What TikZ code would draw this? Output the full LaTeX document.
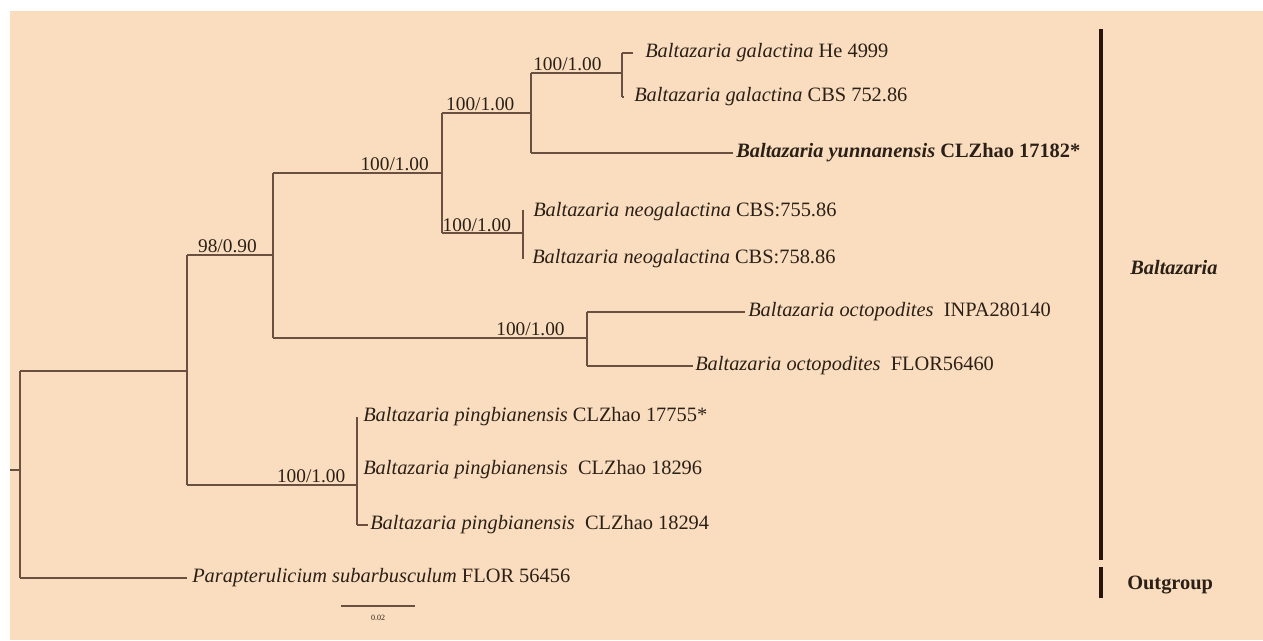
\documentclass[tikz,border=0pt]{standalone}
\usepackage{fontspec}
\setmainfont{Liberation Serif}
\definecolor{bgcol}{HTML}{FADDBE}
\definecolor{linecol}{HTML}{6A5040}
\definecolor{txtcol}{HTML}{2B2018}
\definecolor{barcol}{HTML}{24160E}
\begin{document}
\begin{tikzpicture}[x=0.75pt,y=-0.75pt,
  br/.style={draw=linecol,line width=1pt},
  lbl/.style={anchor=south,inner sep=0pt,yshift=1.5pt,font=\fontsize{14.5}{16}\selectfont,text=txtcol},
  tax/.style={anchor=west,inner ysep=0pt,font=\fontsize{15.3}{17}\selectfont,text=txtcol},
  clade/.style={anchor=west,inner sep=0pt,font=\fontsize{15.3}{17}\selectfont\bfseries,text=txtcol},
  cbar/.style={draw=barcol,line width=2.4pt}]
\useasboundingbox (0,0) rectangle (1263,640);
\fill[bgcol] (10,11) rectangle (1263,640);
% junction coordinates
\coordinate (Rs) at (10,470); \coordinate (Rj) at (20,470);
\coordinate (Rt) at (20,371); \coordinate (Rb) at (20,578);
\coordinate (Aj) at (187,371); \coordinate (At) at (187,255); \coordinate (Ab) at (187,485);
\coordinate (Bj) at (273,255); \coordinate (Bt) at (273,173); \coordinate (Bb) at (273,338);
\coordinate (Cj) at (442,173); \coordinate (Ct) at (442,113); \coordinate (Cb) at (442,233);
\coordinate (Dj) at (531,113); \coordinate (Dt) at (531,73);  \coordinate (Db) at (531,153);
\coordinate (Gj) at (622,73);  \coordinate (Gt) at (622,53);  \coordinate (Gb) at (622,97);
\coordinate (Nj) at (523,233); \coordinate (Nt) at (523,210); \coordinate (Nb) at (523,259);
\coordinate (Oj) at (587,338); \coordinate (Ot) at (587,312); \coordinate (Ob) at (587,366);
\coordinate (Pj) at (357,485); \coordinate (Pt) at (357,417); \coordinate (Pb) at (357,525);
% tips
\node[tax,inner xsep=9pt]   (t1)  at (633,53)  {\textit{Baltazaria galactina} He 4999};
\node[tax,inner xsep=7.5pt] (t2)  at (624,97)  {\textit{Baltazaria galactina} CBS 752.86};
\node[tax,inner xsep=2.25pt](t3)  at (733,153) {\textbf{\textit{Baltazaria yunnanensis} CLZhao 17182*}};
\node[tax,inner xsep=7.5pt] (t4)  at (523,212) {\textit{Baltazaria neogalactina} CBS:755.86};
\node[tax,inner xsep=6.75pt](t5)  at (523,259) {\textit{Baltazaria neogalactina} CBS:758.86};
\node[tax,inner xsep=2.25pt](t6)  at (745,312) {\textit{Baltazaria octopodites}\ \ INPA280140};
\node[tax,inner xsep=1.5pt] (t7)  at (693,366) {\textit{Baltazaria octopodites}\ \ FLOR56460};
\node[tax,inner xsep=4.5pt] (t8)  at (357,417) {\textit{Baltazaria pingbianensis} CLZhao 17755*};
\node[tax,inner xsep=4.5pt] (t9)  at (357,470) {\textit{Baltazaria pingbianensis}\ \ CLZhao 18296};
\node[tax,inner xsep=1.5pt] (t10) at (368,525) {\textit{Baltazaria pingbianensis}\ \ CLZhao 18294};
\node[tax,inner xsep=3.75pt](t11) at (187,578) {\textit{Parapterulicium subarbusculum} FLOR 56456};
% branches
\draw[br] (Rs) -- (Rj);
\draw[br] (Rt) -- (Rb);
\draw[br] (Rt) -- (Aj);
\draw[br] (Rb) -- (t11.west);
\draw[br] (At) -- (Ab);
\draw[br] (At) -- node[lbl,pos=0.47]{98/0.90} (Bj);
\draw[br] (Ab) -- node[lbl,pos=0.73]{100/1.00} (Pj);
\draw[br] (Bt) -- (Bb);
\draw[br] (Bt) -- node[lbl,pos=0.72]{100/1.00} (Cj);
\draw[br] (Bb) -- node[lbl,pos=0.82]{100/1.00} (Oj);
\draw[br] (Ct) -- (Cb);
\draw[br] (Ct) -- node[lbl,pos=0.43]{100/1.00} (Dj);
\draw[br] (Cb) -- node[lbl,pos=0.43,yshift=-1pt]{100/1.00} (Nj);
\draw[br] (Dt) -- (Db);
\draw[br] (Dt) -- node[lbl,pos=0.4]{100/1.00} (Gj);
\draw[br] (Db) -- (t3.west);
\draw[br] (Gt) -- (Gb);
\draw[br] (Gt) -- (t1.west);
\draw[br] (Gb) -- (t2.west);
\draw[br] (Nt) -- (Nb);
\draw[br] (Ot) -- (Ob);
\draw[br] (Ot) -- (t6.west);
\draw[br] (Ob) -- (t7.west);
\draw[br] (Pt) -- (Pb);
\draw[br] (Pb) -- (t10.west);
% clade bars
\coordinate (k1) at (1101,29); \coordinate (k2) at (1101,560);
\coordinate (k3) at (1101,567); \coordinate (k4) at (1101,598);
\draw[cbar] (k1) -- (k2);
\draw[cbar] (k3) -- (k4);
\node[clade] (cb) at (1130,268) {\textit{Baltazaria}};
\node[clade] (co) at (1127,585) {Outgroup};
% scale bar
\coordinate (s1) at (341,606); \coordinate (s2) at (415,606);
\draw[draw=linecol,line width=0.8pt] (s1) -- (s2);
\node[inner sep=0pt,font=\fontsize{6}{7}\selectfont,text=txtcol] (sl) at (378,618) {0.02};
\end{tikzpicture}
\end{document}
